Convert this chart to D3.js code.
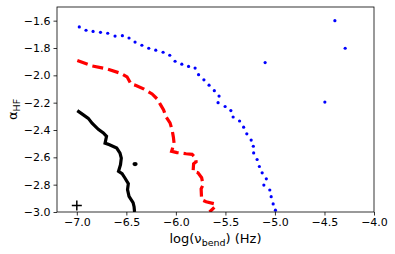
<!DOCTYPE html>
<html>
<head>
<meta charset="utf-8">
<script src="https://cdn.jsdelivr.net/npm/d3@7"></script>
<style>
  body { margin: 0; background: #fff; }
  text { font-family: "DejaVu Sans", sans-serif; }
</style>
</head>
<body>
<svg id="canvas"></svg>
<script>
// contour levels: [log(nu_bend), alpha_HF]
const blackLine = [
  [-6.995, -2.258], [-6.934, -2.289], [-6.884, -2.315], [-6.846, -2.350], [-6.783, -2.395],
  [-6.732, -2.421], [-6.700, -2.446], [-6.715, -2.496], [-6.670, -2.508], [-6.597, -2.532],
  [-6.564, -2.569], [-6.551, -2.606], [-6.559, -2.654], [-6.579, -2.702], [-6.543, -2.720],
  [-6.513, -2.753], [-6.480, -2.793], [-6.488, -2.837], [-6.473, -2.885], [-6.432, -2.932],
  [-6.422, -2.961], [-6.417, -3.000]
];
const blackBlob = [[-6.412, -2.649]];

const redLine = [
  [-6.995, -1.892], [-6.846, -1.931], [-6.695, -1.953], [-6.554, -1.986], [-6.493, -2.011],
  [-6.453, -2.063], [-6.402, -2.074], [-6.321, -2.101], [-6.240, -2.136], [-6.190, -2.172],
  [-6.160, -2.209], [-6.124, -2.253], [-6.099, -2.304], [-6.059, -2.348], [-6.038, -2.399],
  [-6.025, -2.452], [-6.018, -2.497], [-6.043, -2.556], [-5.988, -2.565], [-5.897, -2.574],
  [-5.836, -2.578], [-5.801, -2.603], [-5.796, -2.633], [-5.821, -2.647], [-5.826, -2.702],
  [-5.776, -2.713], [-5.740, -2.749], [-5.725, -2.801], [-5.745, -2.830], [-5.740, -2.910],
  [-5.695, -2.925], [-5.614, -2.939], [-5.599, -2.958], [-5.660, -3.000]
];

const blueDots = [
  [-6.975, -1.646], [-6.907, -1.670], [-6.836, -1.679], [-6.761, -1.685], [-6.688, -1.692],
  [-6.614, -1.713], [-6.540, -1.710], [-6.473, -1.727], [-6.412, -1.757], [-6.343, -1.780],
  [-6.274, -1.802], [-6.203, -1.816], [-6.129, -1.831], [-6.062, -1.853], [-6.008, -1.897],
  [-5.940, -1.918], [-5.872, -1.935], [-5.806, -1.947], [-5.771, -1.995], [-5.717, -2.033],
  [-5.665, -2.072], [-5.612, -2.112], [-5.564, -2.152], [-5.574, -2.200], [-5.503, -2.228],
  [-5.445, -2.258], [-5.422, -2.305], [-5.357, -2.334], [-5.316, -2.379], [-5.284, -2.428],
  [-5.240, -2.474], [-5.218, -2.519], [-5.215, -2.568], [-5.180, -2.616], [-5.157, -2.667],
  [-5.129, -2.713], [-5.087, -2.757], [-5.112, -2.803], [-5.052, -2.839], [-5.038, -2.888],
  [-5.018, -2.941], [-4.995, -2.987],
  // small islands
  [-5.099, -1.907], [-4.395, -1.600], [-4.291, -1.802], [-4.496, -2.196]
];

const bestFit = [[-7.0, -2.952]];

const xTicks = [-7.0, -6.5, -6.0, -5.5, -5.0, -4.5, -4.0];
const yTicks = [-3.0, -2.8, -2.6, -2.4, -2.2, -2.0, -1.8, -1.6];

const w = 395, h = 254;
const margin = { left: 57, right: 21, top: 7, bottom: 42 };

const svg = d3.select('#canvas').attr('width', w).attr('height', h);

const x = d3.scaleLinear().domain([-7.2, -4.0]).range([margin.left, w - margin.right]);
const y = d3.scaleLinear().domain([-3.0, -1.5]).range([h - margin.bottom, margin.top]);

const fmt = (d) => d3.format('.1f')(d).replace('-', '\u2212');

svg.append('clipPath').attr('id', 'clip')
  .append('rect')
  .attr('x', margin.left).attr('y', margin.top)
  .attr('width', x.range()[1] - margin.left)
  .attr('height', y.range()[0] - margin.top);

const plot = svg.append('g').attr('clip-path', 'url(#clip)');
const line = d3.line().x((d) => x(d[0])).y((d) => y(d[1]));

plot.append('path').datum(blackLine)
  .attr('d', line).attr('fill', 'none')
  .attr('stroke', 'black').attr('stroke-width', 3.2);

plot.selectAll('.blob').data(blackBlob).enter().append('ellipse')
  .attr('cx', (d) => x(d[0])).attr('cy', (d) => y(d[1]))
  .attr('rx', 2.6).attr('ry', 2.1).attr('fill', 'black');

plot.append('path').datum(redLine)
  .attr('d', line).attr('fill', 'none')
  .attr('stroke', 'red').attr('stroke-width', 3.2)
  .attr('stroke-dasharray', '11,5');

plot.selectAll('.dot').data(blueDots).enter().append('circle')
  .attr('cx', (d) => x(d[0])).attr('cy', (d) => y(d[1]))
  .attr('r', 1.6).attr('fill', 'blue');

bestFit.forEach((d) => {
  const cx = x(d[0]), cy = y(d[1]);
  svg.append('path')
    .attr('d', `M${cx - 5},${cy}H${cx + 5}M${cx},${cy - 5}V${cy + 5}`)
    .attr('stroke', 'black').attr('stroke-width', 1.5);
});

// axes
const xAxis = d3.axisBottom(x).tickValues(xTicks).tickFormat(fmt).tickSizeOuter(0).tickSize(3.5).tickPadding(3);
const yAxis = d3.axisLeft(y).tickValues(yTicks).tickFormat(fmt).tickSizeOuter(0).tickSize(3.5).tickPadding(3);

const gx = svg.append('g').attr('transform', 'translate(0,' + (h - margin.bottom) + ')').call(xAxis);
const gy = svg.append('g').attr('transform', 'translate(' + margin.left + ',0)').call(yAxis);
[gx, gy].forEach((g) => {
  g.select('.domain').remove();
  g.selectAll('text').attr('font-size', 11).attr('fill', 'black').attr('font-family', '"DejaVu Sans", sans-serif');
  g.selectAll('line').attr('stroke', 'black').attr('stroke-width', 0.8);
});

svg.append('rect')
  .attr('x', margin.left).attr('y', margin.top)
  .attr('width', x.range()[1] - margin.left)
  .attr('height', y.range()[0] - margin.top)
  .attr('fill', 'none').attr('stroke', 'black').attr('stroke-width', 0.8);

const xl = svg.append('text')
  .attr('x', (margin.left + x.range()[1]) / 2).attr('y', 243)
  .attr('text-anchor', 'middle').attr('font-size', 13);
xl.append('tspan').text('log(\u03bd');
xl.append('tspan').attr('font-size', 9.5).attr('dy', 3).text('bend');
xl.append('tspan').attr('dy', -3).text(') (Hz)');

const yl = svg.append('text')
  .attr('transform', 'translate(17,' + (margin.top + y.range()[0]) / 2 + ') rotate(-90)')
  .attr('text-anchor', 'middle').attr('font-size', 13);
yl.append('tspan').text('\u03b1');
yl.append('tspan').attr('font-size', 9.5).attr('dy', 3).text('HF');
</script>
</body>
</html>
